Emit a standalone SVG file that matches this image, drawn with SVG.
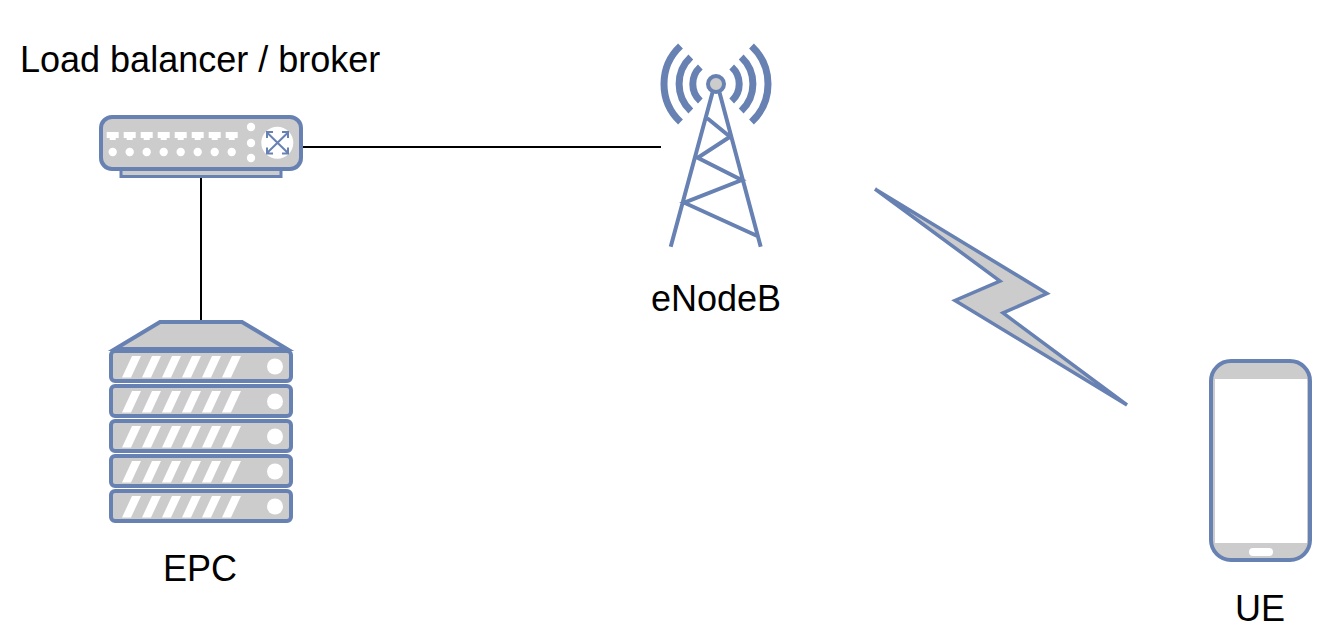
<svg xmlns="http://www.w3.org/2000/svg" width="1322" height="642" viewBox="0 0 1322 642">
<style>
text{font-family:"Liberation Sans",Arial,sans-serif;font-size:36px;fill:#000}
.m{text-anchor:middle}
.b{fill:#ccc;stroke:#6881b3;stroke-width:4}
.w{fill:#fff;stroke:none}
.l{fill:none;stroke:#6881b3;stroke-width:4}
.a{fill:none;stroke:#6881b3;stroke-width:7}
.c{fill:none;stroke:#000;stroke-width:2}
</style>
<defs>
<g id="unit"><rect class="b" x="111" y="0" width="180" height="30" rx="4"/>
<path class="w" d="M122 26.500h9l10-21.500h-9zM142 26.500h9l10-21.500h-9zM162 26.500h9l10-21.500h-9zM182 26.500h9l10-21.500h-9zM202 26.500h9l10-21.500h-9zM222 26.500h9l10-21.500h-9z"/>
<circle class="w" cx="275" cy="15.500" r="8"/></g>
<path id="port" class="w" d="M-6 -4h12v6h-3v2h-6v-2h-3z"/>
</defs>
<g id="connectors">
<path class="c" d="M302 147H661"/>
<path class="c" d="M201 178V320"/>
</g>
<g id="broker">
<rect class="b" x="121" y="167" width="160" height="9.500" style="stroke-width:3"/>
<rect class="b" x="101" y="117" width="200" height="52" rx="11"/>
<use href="#port" x="112.700" y="136"/><use href="#port" x="129.700" y="136"/><use href="#port" x="146.700" y="136"/><use href="#port" x="163.700" y="136"/><use href="#port" x="180.700" y="136"/><use href="#port" x="197.700" y="136"/><use href="#port" x="214.700" y="136"/><use href="#port" x="231.700" y="136"/>
<g class="w"><circle cx="112.700" cy="152" r="4.200"/><circle cx="129.700" cy="152" r="4.200"/><circle cx="146.700" cy="152" r="4.200"/><circle cx="163.700" cy="152" r="4.200"/><circle cx="180.700" cy="152" r="4.200"/><circle cx="197.700" cy="152" r="4.200"/><circle cx="214.700" cy="152" r="4.200"/><circle cx="231.700" cy="152" r="4.200"/>
<circle cx="251" cy="127" r="4.200"/><circle cx="251" cy="143" r="4.200"/><circle cx="251" cy="158" r="4.200"/>
<circle cx="277.300" cy="142.700" r="16"/></g>
<path fill="none" stroke="#6881b3" stroke-width="2" d="M267 132.500L288 153M288 132.500L267 153M267 138v-6h6M288 138v-6h-6M267 147.500v6h6M288 147.500v6h-6"/>
<text x="20" y="72">Load balancer / broker</text>
</g>
<g id="epc">
<path class="b" d="M160 322H242L287 349H115Z"/>
<use href="#unit" y="351"/><use href="#unit" y="386"/><use href="#unit" y="421"/><use href="#unit" y="456"/><use href="#unit" y="491"/>
<text class="m" x="200" y="581">EPC</text>
</g>
<g id="enodeb">
<path class="l" d="M712.700 91.700L670.700 246.700M719.300 91.700L760.700 246.700M707.300 118.300L730 136.700L697.700 157.700L741.700 180L684.300 202.700L757.300 236"/>
<path class="a" d="M680.500 46A52 52 0 0 0 680.500 122M751.500 46A52 52 0 0 1 751.500 122M690.800 57A37 37 0 0 0 690.800 111M741.200 57A37 37 0 0 1 741.200 111M700.300 67A23 23 0 0 0 700.300 101M731.700 67A23 23 0 0 1 731.700 101"/>
<circle class="b" cx="716" cy="84" r="8"/>
<text class="m" x="716" y="311">eNodeB</text>
</g>
<path id="bolt" d="M875 189L1047 293.500L1003 313L1127 405L955 300.500L1000 281Z" fill="#ccc" stroke="#6881b3" stroke-width="3.500" stroke-miterlimit="10"/>
<g id="ue">
<rect class="b" x="1211" y="361" width="99" height="199" rx="20"/>
<rect class="w" x="1215" y="379" width="92" height="164"/>
<rect class="w" x="1249" y="548" width="24" height="8" rx="4"/>
<text class="m" x="1260" y="621">UE</text>
</g>
</svg>
